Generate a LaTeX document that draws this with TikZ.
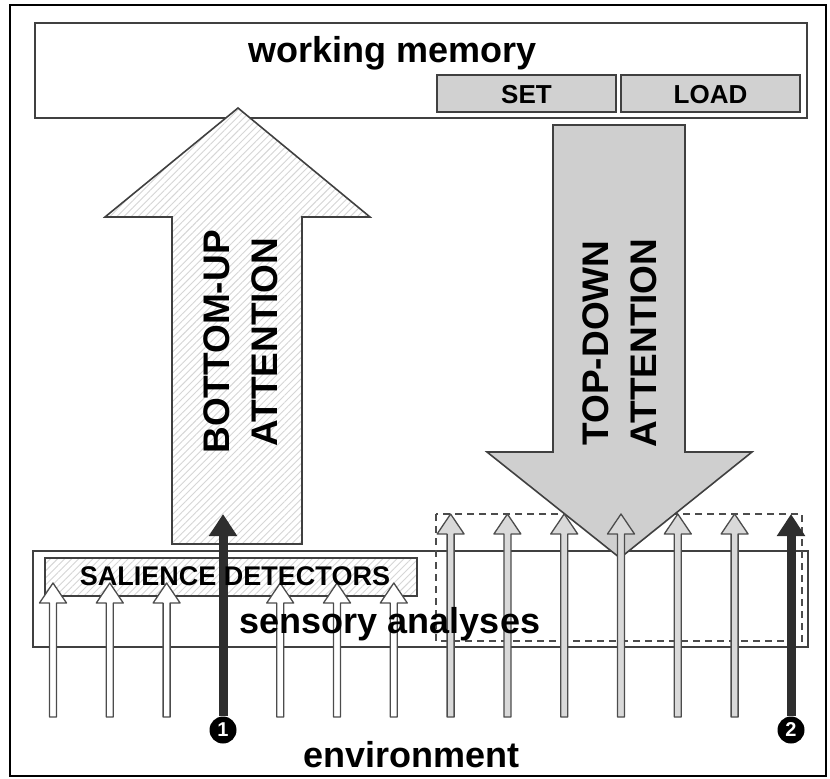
\documentclass[tikz,border=0pt]{standalone}
\usepackage{fontspec}
\setmainfont{Liberation Sans}
\usetikzlibrary{patterns.meta,arrows.meta}

\tikzset{
    box/.style={draw=black!75, line width=1.6pt},
    keybox/.style={box, fill=black!18, minimum width=179pt, minimum height=37pt, inner sep=0pt},
    hatch/.style={preaction={fill=white}, pattern={Lines[angle=45,distance=5pt,line width=0.9pt]}, pattern color=black!16},
    biglbl/.style={font=\bfseries\fontsize{36}{40}\selectfont},
    keylbl/.style={font=\bfseries\fontsize{26}{30}\selectfont},
    sig/.style={draw=black!70, line width=1.3pt, fill=white, line join=round},
    topsig/.style={sig, fill=black!15},
    darksig/.style={draw=black!82, line width=9pt, -{Triangle[width=27pt,length=22pt]}},
    num/.style={circle, fill=black, text=white, inner sep=0pt, minimum size=27pt, font=\bfseries\fontsize{20}{20}\selectfont},
}

% x, tip y (all signal arrows start at the environment line)
\newcommand{\sigarrow}[3]{%
    \filldraw[#1] ({#2-3.5},717) -- ({#2-3.5},{#3+20}) -- ({#2-13.5},{#3+20}) -- (#2,#3)
        -- ({#2+13.5},{#3+20}) -- ({#2+3.5},{#3+20}) -- ({#2+3.5},717) -- cycle;}

\begin{document}
\begin{tikzpicture}[x=1pt, y=-1pt]
    \useasboundingbox (0,0) rectangle (830,779);
    \draw[line width=2pt] (10,5) rectangle (826,776);

    % working memory
    \node[box, minimum width=772pt, minimum height=95pt] (wm) at (421,70.5) {};
    \node[keybox] (set) at (526.5,93.5) {};
    \node[keybox] (load) at (710.5,93.5) {};
    \node[keylbl, anchor=base] (settext) at (set.center |- 0,103) {SET};
    \node[keylbl, anchor=base] (loadtext) at (load.center |- 0,103) {LOAD};
    \node[biglbl, anchor=base] (wmtext) at (393,62) {working memory};

    % sensory analyses
    \node[box, minimum width=775pt, minimum height=96pt] (sa) at (420.5,599) {};
    \node[box, hatch, minimum width=372pt, minimum height=38pt] (sd) at (231,577) {};
    \draw[draw=black!70, line width=1.5pt, dash pattern=on 7pt off 5pt] (436,514) rectangle (802,641);

    % attention arrows
    \filldraw[box, fill=black!19] (553,125) -- (685,125) -- (685,452) -- (752,452) -- (620,558)
        -- (487,452) -- (553,452) -- cycle;
    \filldraw[box, hatch] (172,544) -- (172,217) -- (105,217) -- (238,108) -- (370,217)
        -- (302,217) -- (302,544) -- cycle;
    \node[biglbl, rotate=90, align=center, font=\bfseries\fontsize{37}{48}\selectfont] (bu) at (241,342) {BOTTOM-UP\\ATTENTION};
    \node[biglbl, rotate=90, align=center, font=\bfseries\fontsize{37}{48}\selectfont] (td) at (620,343) {TOP-DOWN\\ATTENTION};

    % signals from the environment
    \foreach \i [evaluate=\i as \xx using 53+56.8*\i] in {0,1,2,4,5,6}
        \sigarrow{sig}{\xx}{583};
    \foreach \i [evaluate=\i as \xx using 53+56.8*\i] in {7,8,...,12}
        \sigarrow{topsig}{\xx}{514};

    \node[num] (n1) at (223,730) {1};
    \node[num] (n2) at (791,730) {2};
    \coordinate (t1) at (223,514);
    \coordinate (t2) at (791,514);
    \draw[darksig] (n1) -- (t1);
    \draw[darksig] (n2) -- (t2);

    \node[keylbl, anchor=base, font=\bfseries\fontsize{27}{30}\selectfont] (sdtext) at (235,585) {SALIENCE DETECTORS};
    \node[biglbl, anchor=base] (satext) at (390,633) {sensory analyses};
    \node[biglbl, anchor=base] (env) at (411.5,767) {environment};
\end{tikzpicture}
\end{document}
